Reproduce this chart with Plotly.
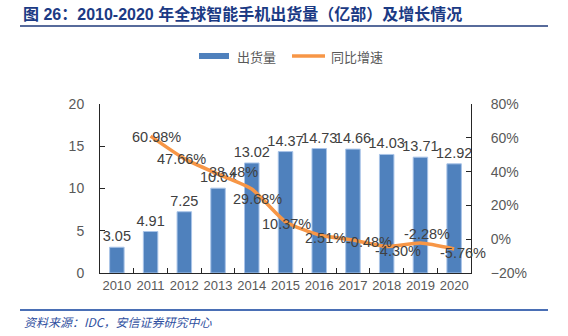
import plotly.graph_objects as go

# Global smartphone shipments (100M units) and YoY growth (%)
years = ["2010", "2011", "2012", "2013", "2014", "2015", "2016", "2017", "2018", "2019", "2020"]
shipments = [3.05, 4.91, 7.25, 10.04, 13.02, 14.37, 14.73, 14.66, 14.03, 13.71, 12.92]
growth_years = years[1:]
growth = [60.98, 47.66, 38.48, 29.68, 10.37, 2.51, -0.48, -4.30, -2.28, -5.76]

# pixel nudges for the growth labels (dx right, dy down) relative to each point
growth_label_offsets = [(6, 1), (-3, 0), (15, -2), (6, 10), (1, 2),
                        (6, 3), (16, 2), (11, 5), (7, -9), (9, 4)]

W, H = 568, 336
L, R, T, B = 100, 97, 104, 63
pw, ph = W - L - R, H - T - B

def px(x):
    return (x - L) / pw

def py(y):
    return (H - B - y) / ph

NUM_FONT = "Liberation Sans, Arial, Noto Sans CJK SC"
CJK_FONT = "Noto Sans CJK SC, Liberation Sans"
GREY = "#595959"

fig = go.Figure()
fig.add_trace(go.Bar(
    x=years, y=shipments, name="出货量",
    marker=dict(color="#4F81BD", line=dict(color="#A9C4E8", width=1)),
    width=0.43,
    text=[f"{v:.2f}" for v in shipments], textposition="outside",
    textfont=dict(family=NUM_FONT, size=14.5, color="#404040"),
    constraintext="none", cliponaxis=False, showlegend=False,
))
fig.add_trace(go.Scatter(
    x=growth_years, y=growth, name="同比增速", yaxis="y2",
    mode="lines", line=dict(color="#F79646", width=3.5, shape="spline", smoothing=0.6),
    showlegend=False, cliponaxis=False,
))

annotations = []
for yr, v, (dx, dy) in zip(growth_years, growth, growth_label_offsets):
    annotations.append(dict(
        x=years.index(yr), y=v, xref="x", yref="y2", text=f"{v:.2f}%", showarrow=False,
        xshift=dx, yshift=-dy, font=dict(family=NUM_FONT, size=14.5, color="#404040"),
    ))

# legend drawn by hand
annotations += [
    dict(x=px(235), y=py(56), xref="paper", yref="paper", text="出货量", showarrow=False,
         xanchor="left", yanchor="middle", font=dict(family=CJK_FONT, size=13, color=GREY)),
    dict(x=px(329), y=py(56), xref="paper", yref="paper", text="同比增速", showarrow=False,
         xanchor="left", yanchor="middle", font=dict(family=CJK_FONT, size=13, color=GREY)),
    dict(x=px(22), y=py(321), xref="paper", yref="paper",
         text="<i>资料来源：IDC，安信证券研究中心</i>", showarrow=False,
         xanchor="left", yanchor="middle", font=dict(family=CJK_FONT, size=12, color="#2F4FA0")),
]

shapes = [
    dict(type="rect", xref="paper", yref="paper", x0=px(199), x1=px(229), y0=py(59), y1=py(53),
         fillcolor="#4F81BD", line=dict(width=0)),
    dict(type="line", xref="paper", yref="paper", x0=px(292), x1=px(325), y0=py(56), y1=py(56),
         line=dict(color="#F79646", width=3.5)),
    dict(type="line", xref="paper", yref="paper", x0=px(20), x1=px(548), y0=py(26), y1=py(26),
         line=dict(color="#1F3A7A", width=1.5)),
    dict(type="line", xref="paper", yref="paper", x0=px(20), x1=px(548), y0=py(310), y1=py(310),
         line=dict(color="#4A6FB5", width=2)),
]

fig.update_layout(
    width=W, height=H,
    margin=dict(l=L, r=R, t=T, b=B, pad=0),
    paper_bgcolor="white", plot_bgcolor="white",
    title=dict(text="<b>图 26：2010-2020 年全球智能手机出货量（亿部）及增长情况</b>",
               xref="container", yref="container", x=23 / W, y=1 - 14 / H,
               xanchor="left", yanchor="middle",
               font=dict(family="Liberation Sans, Noto Sans CJK SC", size=16, color="#1B3A84")),
    xaxis=dict(type="category", range=[-0.5, len(years) - 0.5], autorange=False,
               showline=True, linecolor="#262626", linewidth=1,
               ticks="inside", ticklen=5, tickcolor="#262626", tickson="boundaries",
               tickangle=0, tickfont=dict(family=NUM_FONT, size=13, color=GREY), showgrid=False),
    yaxis=dict(range=[0, 20], dtick=5, showline=True, linecolor="#262626", linewidth=1,
               ticks="inside", ticklen=5, tickcolor="#262626", showgrid=False, zeroline=False,
               tickfont=dict(family=NUM_FONT, size=14, color=GREY), ticklabelstandoff=12),
    yaxis2=dict(range=[-20, 80], dtick=20, overlaying="y", side="right", ticksuffix="%",
                showline=True, linecolor="#262626", linewidth=1,
                ticks="inside", ticklen=5, tickcolor="#262626", showgrid=False, zeroline=False,
                tickfont=dict(family=NUM_FONT, size=14, color=GREY), ticklabelstandoff=16),
    bargap=0.57,
    annotations=annotations, shapes=shapes,
)

fig.write_html("out.html")
